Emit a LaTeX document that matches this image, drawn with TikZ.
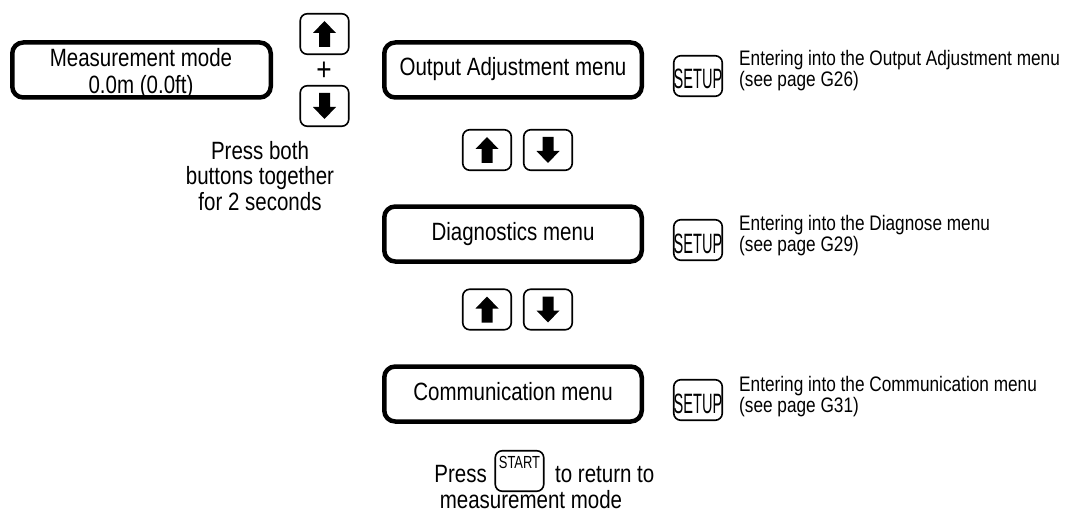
\documentclass[tikz,border=0pt]{standalone}
\usepackage{fontspec}
\setmainfont[FakeStretch=0.82]{Liberation Sans}
\newfontfamily\descfont[FakeStretch=0.82]{Liberation Sans}
\newfontfamily\setupfont[FakeStretch=0.52]{Liberation Sans}
\newfontfamily\startfont[FakeStretch=0.74]{Liberation Sans}
\newcommand{\mainsz}{\fontsize{25}{27}\selectfont}
\newcommand{\descsz}{\descfont\fontsize{21}{23}\selectfont}
\newcommand{\setupsz}{\setupfont\fontsize{28}{30}\selectfont}
\newcommand{\startsz}{\startfont\fontsize{17.5}{19}\selectfont}
\tikzset{
  every node/.style={font=\mainsz, inner sep=0pt},
  menubox/.style={draw, line width=4.5pt, rounded corners=11pt, minimum width=257.5pt, minimum height=55pt},
  menutext/.style={text height=12pt, text depth=0pt},
  keybox/.style={draw, line width=1.6pt, rounded corners=7pt, minimum width=48.5pt, minimum height=40.5pt},
  setupkey/.style={keybox, font=\setupsz, text height=26pt, text depth=0pt},
  startkey/.style={keybox, font=\startsz, text height=0pt, text depth=5pt},
  desc/.style={font=\descsz, anchor=base west},
  line/.style={anchor=base},
  uparr/.pic={\fill (0,-13) -- (11.5,-1) -- (5.5,-1) -- (5.5,13) -- (-5.5,13) -- (-5.5,-1) -- (-11.5,-1) -- cycle;},
  downarr/.pic={\fill (0,13) -- (11.5,1) -- (5.5,1) -- (5.5,-13) -- (-5.5,-13) -- (-5.5,1) -- (-11.5,1) -- cycle;}
}
\begin{document}
\begin{tikzpicture}[x=1pt,y=-1pt]
\useasboundingbox (0,0) rectangle (1078,513);

% measurement mode
\node[menubox, minimum width=258.5pt] (meas) at (141.5,70) {};
\node[line] (measl1) at (141,67) {Measurement mode};
\node[line] (measl2) at (141,94) {0.0m (0.0ft)};

% both buttons
\node[keybox] (mup) at (324.5,34) {};
\pic at (mup.center) {uparr};
\node[font=\fontsize{32}{34}\selectfont] (plus) at (324,71) {+};
\node[keybox] (mdown) at (324.5,106) {};
\pic at (mdown.center) {downarr};
\node[line] (pb1) at (260,160) {Press both};
\node[line] (pb2) at (260,185) {buttons together};
\node[line] (pb3) at (260,210) {for 2 seconds};

% menus
\node[menubox, menutext] (out) at (513,70) {Output Adjustment menu};
\node[menubox, menutext] (diag) at (513,234) {Diagnostics menu};
\node[menubox, menutext] (comm) at (513,394) {Communication menu};

% up/down pairs
\node[keybox] (u1) at (487,150) {};
\pic at (u1.center) {uparr};
\node[keybox] (d1) at (548,150) {};
\pic at (d1.center) {downarr};
\node[keybox] (u2) at (487,309.5) {};
\pic at (u2.center) {uparr};
\node[keybox] (d2) at (548,309.5) {};
\pic at (d2.center) {downarr};

% setup keys
\node[setupkey] (s1) at (698,76) {SETUP};
\node[setupkey] (s2) at (698,240) {SETUP};
\node[setupkey] (s3) at (698,400) {SETUP};

% descriptions
\node[desc] (t1a) at (739,66) {Entering into the Output Adjustment menu};
\node[desc] (t1b) at (739,87) {(see page G26)};
\node[desc] (t2a) at (739,230) {Entering into the Diagnose menu};
\node[desc] (t2b) at (739,251) {(see page G29)};
\node[desc] (t3a) at (739,391) {Entering into the Communication menu};
\node[desc] (t3b) at (739,412) {(see page G31)};

% start
\node[startkey] (start) at (519.5,471) {START};
\node[anchor=base east] (press) at (487,482) {Press};
\node[anchor=base west] (ret) at (555,482) {to return to};
\node[line] (mm) at (531,508) {measurement mode};
\end{tikzpicture}
\end{document}
